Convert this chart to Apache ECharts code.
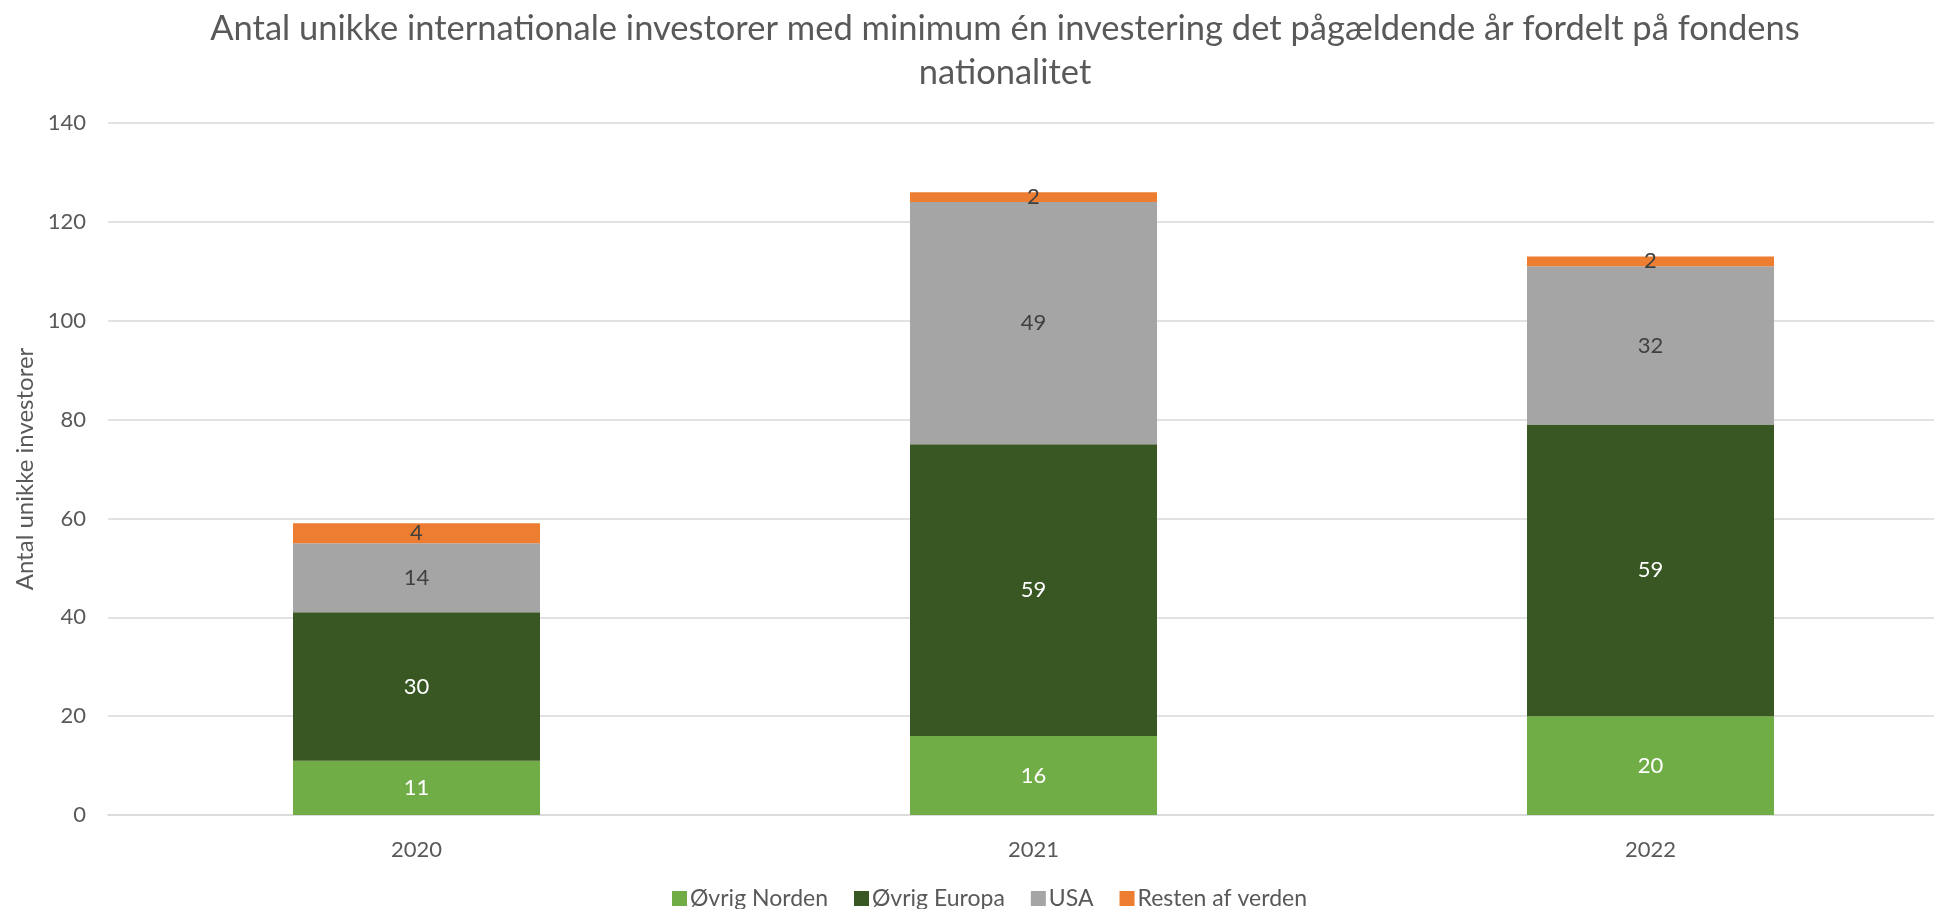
<!DOCTYPE html>
<html>
<head>
<meta charset="utf-8">
<script src="https://cdn.jsdelivr.net/npm/echarts@6/dist/echarts.min.js"></script>
<style>
  html, body { margin: 0; padding: 0; background: #fff; }
  #main { width: 1934px; height: 909px; }
</style>
</head>
<body>
<div id="main"></div>
<script>
// data
var years = ['2020', '2021', '2022'];
var ovrigNorden = [11, 16, 20];
var ovrigEuropa = [30, 59, 59];
var usa = [14, 49, 32];
var restenAfVerden = [4, 2, 2];
var yTicks = [0, 20, 40, 60, 80, 100, 120, 140];

var font = 'Lato';
var textColor = '#595959';

function stackSeries(name, data, color, labelColor) {
    return {
        name: name,
        type: 'bar',
        stack: 'total',
        barWidth: 247,
        data: data,
        itemStyle: { color: color },
        label: {
            show: true,
            position: 'inside',
            color: labelColor,
            fontFamily: font,
            fontSize: 22
        }
    };
}

var myChart = echarts.init(document.getElementById('main'));

var option = {
    animation: false,
    title: {
        text: 'Antal unikke internationale investorer med minimum én investering det pågældende år fordelt på fondens\nnationalitet',
        left: 1000,
        textAlign: 'center',
        top: 2,
        textStyle: {
            fontFamily: font,
            fontWeight: 'normal',
            fontSize: 34.5,
            color: textColor,
            lineHeight: 44
        }
    },
    legend: {
        data: ['Øvrig Norden', 'Øvrig Europa', 'USA', 'Resten af verden'],
        left: 667,
        top: 882,
        icon: 'rect',
        itemWidth: 15,
        itemHeight: 15,
        itemGap: 26,
        textStyle: {
            fontFamily: font,
            fontSize: 23,
            color: textColor,
            padding: [0, 0, 0, -2]
        }
    },
    grid: {
        left: 108,
        width: 1851,
        top: 123,
        bottom: 94,
        outerBoundsMode: 'none'
    },
    xAxis: {
        type: 'category',
        data: years,
        axisLine: { lineStyle: { color: '#D9D9D9', width: 1.5 } },
        axisTick: { show: false },
        axisLabel: {
            margin: 24,
            fontFamily: font,
            fontSize: 22,
            color: textColor
        }
    },
    yAxis: {
        type: 'value',
        min: yTicks[0],
        max: yTicks[yTicks.length - 1],
        interval: 20,
        name: 'Antal unikke investorer',
        nameLocation: 'middle',
        nameGap: 68,
        nameTextStyle: {
            fontFamily: font,
            fontSize: 24,
            color: textColor
        },
        axisLine: { show: false },
        axisTick: { show: false },
        splitLine: { lineStyle: { color: '#D9D9D9', width: 1.5 } },
        axisLabel: {
            margin: 22,
            fontFamily: font,
            fontSize: 22,
            color: textColor
        }
    },
    series: [
        stackSeries('Øvrig Norden', ovrigNorden, '#70AD47', '#ffffff'),
        stackSeries('Øvrig Europa', ovrigEuropa, '#385723', '#ffffff'),
        stackSeries('USA', usa, '#A5A5A5', '#404040'),
        stackSeries('Resten af verden', restenAfVerden, '#ED7D31', '#404040')
    ]
};

myChart.setOption(option);
</script>
</body>
</html>
